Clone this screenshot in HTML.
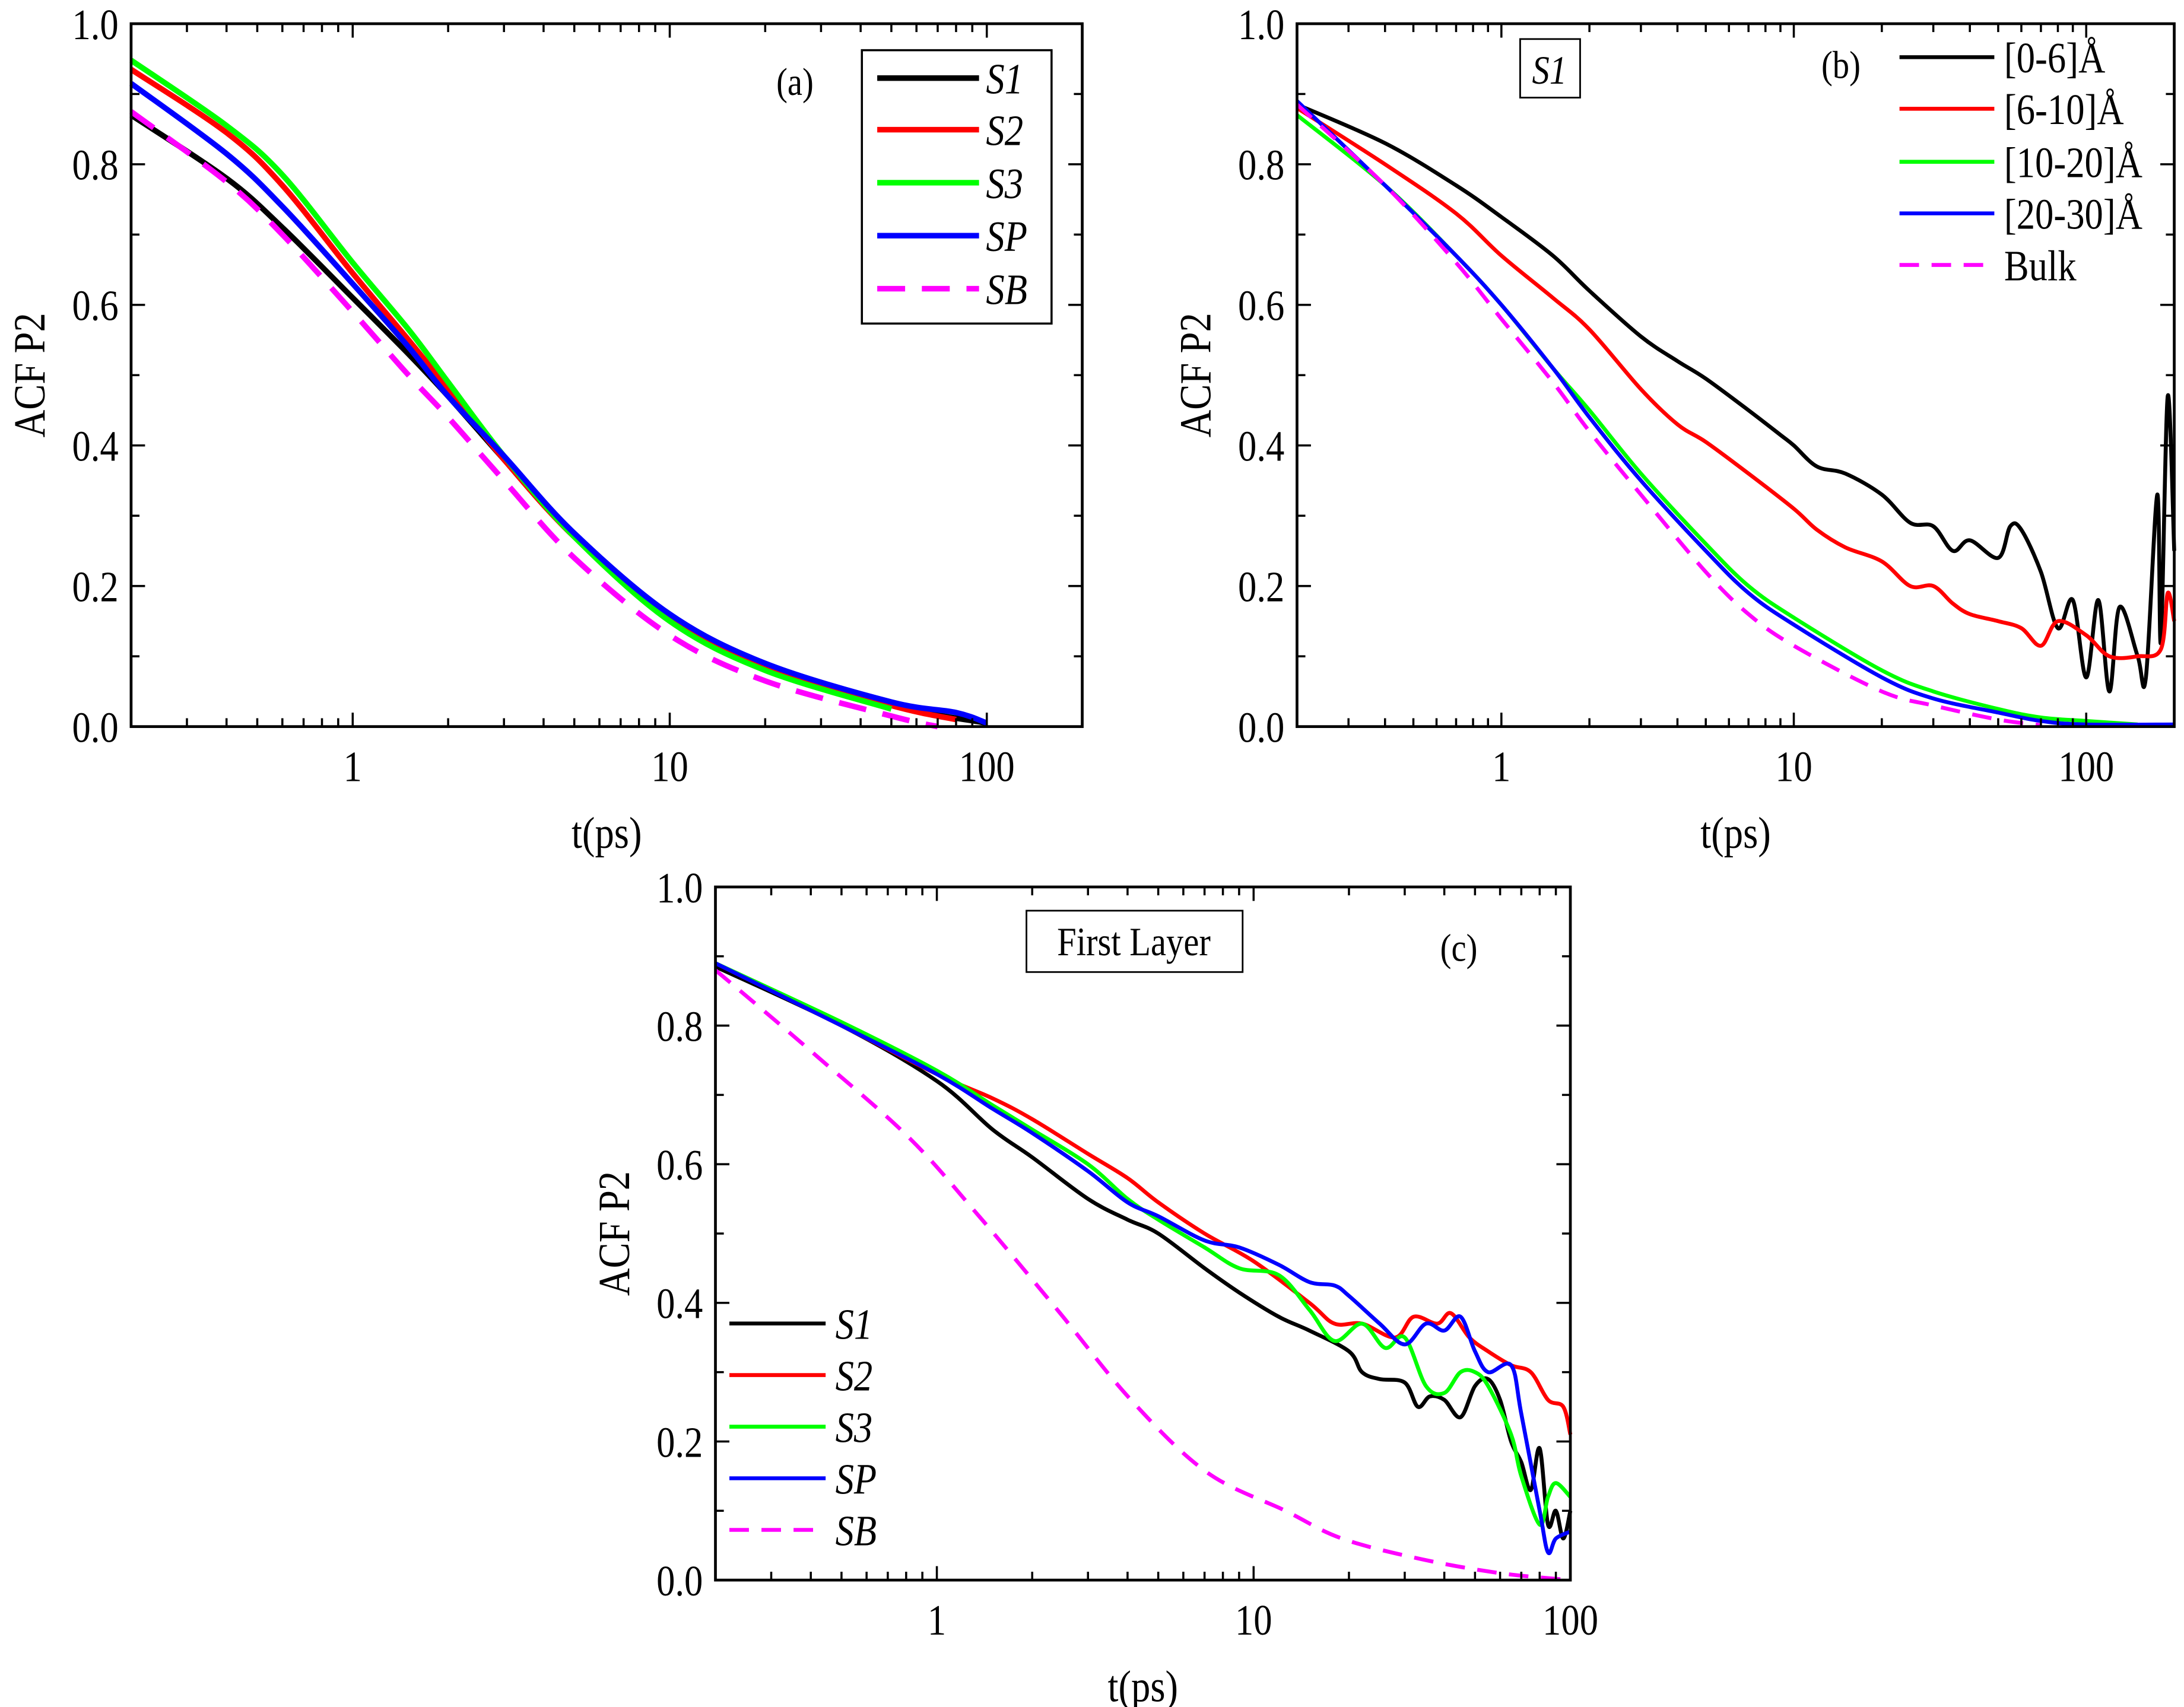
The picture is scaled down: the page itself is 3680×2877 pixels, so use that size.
<!DOCTYPE html>
<html><head><meta charset="utf-8"><style>
html,body{margin:0;padding:0;background:#fff;}
svg{display:block;font-family:"Liberation Serif",serif;}
</style></head><body>
<svg id="fig" width="3680" height="2877" viewBox="0 0 1566 1224" preserveAspectRatio="none" xmlns="http://www.w3.org/2000/svg"></svg>
<script>
// ---- Panel (a) data ----
const aS1 = [[0.2,0.87],[0.4,0.78],[0.6,0.71],[1,0.61],[1.5,0.53],[2,0.47],[3,0.38],[5,0.27],[10,0.155],[20,0.085],[50,0.03],[100,0.005]];
const aS2 = [[0.2,0.935],[0.4,0.845],[0.6,0.77],[1,0.645],[1.5,0.55],[2,0.48],[3,0.38],[5,0.27],[10,0.155],[20,0.085],[50,0.03],[80,0.01]];
const aS3 = [[0.2,0.948],[0.4,0.855],[0.6,0.785],[1,0.66],[1.5,0.565],[2,0.49],[3,0.385],[5,0.27],[10,0.15],[20,0.08],[50,0.025]];
const aSP = [[0.2,0.915],[0.4,0.815],[0.6,0.74],[1,0.63],[1.5,0.54],[2,0.47],[3,0.385],[5,0.275],[10,0.16],[20,0.09],[50,0.035],[80,0.02],[100,0.005]];
const aSB = [[0.2,0.875],[0.4,0.775],[0.6,0.70],[1,0.59],[1.5,0.50],[2,0.44],[3,0.35],[5,0.24],[10,0.13],[20,0.065],[50,0.015],[70,0.0]];
// ---- Panel (b) data ----
const b06 = [[0.2,0.885],[0.4,0.83],[0.7,0.77],[1,0.725],[1.5,0.67],[2,0.62],[3,0.555],[4,0.52],[5,0.495],[7,0.45],[9,0.415],[10,0.4],[12,0.37],[15,0.36],[20,0.33],[25,0.29],[30,0.285],[35,0.25],[40,0.265],[50,0.24],[55,0.285],[60,0.28],[70,0.22],[80,0.14],[90,0.18],[100,0.07],[110,0.18],[120,0.05],[130,0.17],[150,0.1],[160,0.07],[175,0.33],[180,0.12],[190,0.47],[200,0.25]];
const b610 = [[0.2,0.88],[0.4,0.8],[0.7,0.73],[1,0.67],[1.5,0.61],[2,0.565],[3,0.48],[4,0.43],[5,0.405],[7,0.36],[10,0.31],[12,0.28],[15,0.255],[20,0.235],[25,0.2],[30,0.2],[35,0.175],[40,0.16],[50,0.15],[60,0.14],[70,0.115],[80,0.15],[100,0.13],[120,0.1],[150,0.1],[180,0.11],[190,0.19],[200,0.15]];
const b1020 = [[0.2,0.87],[0.4,0.77],[0.7,0.67],[1,0.6],[1.5,0.51],[2,0.45],[3,0.36],[5,0.26],[7,0.2],[10,0.155],[20,0.08],[30,0.05],[50,0.025],[70,0.013],[100,0.008],[150,0.003]];
const b2030 = [[0.2,0.89],[0.4,0.77],[0.7,0.67],[1,0.6],[1.5,0.51],[2,0.44],[3,0.35],[5,0.25],[7,0.19],[10,0.145],[20,0.07],[30,0.04],[50,0.02],[70,0.008],[100,0.003],[200,0.003]];
const bBulk = [[0.2,0.885],[0.4,0.77],[0.7,0.66],[1,0.58],[1.5,0.49],[2,0.42],[3,0.33],[5,0.22],[7,0.16],[10,0.115],[20,0.05],[30,0.03],[50,0.01],[70,0.002]];
// ---- Panel (c) data ----
const cS1 = [[0.2,0.885],[0.5,0.8],[1,0.72],[1.5,0.65],[2,0.61],[3,0.55],[4,0.52],[5,0.5],[7,0.45],[9,0.415],[12,0.38],[15,0.36],[20,0.33],[22,0.3],[25,0.29],[30,0.285],[33,0.25],[36,0.265],[40,0.26],[45,0.235],[50,0.28],[55,0.29],[60,0.26],[65,0.2],[70,0.17],[75,0.13],[80,0.19],[85,0.08],[90,0.1],[95,0.06],[100,0.1]];
const cS2 = [[0.2,0.89],[0.5,0.8],[1,0.73],[1.5,0.695],[2,0.665],[3,0.615],[4,0.58],[5,0.545],[7,0.5],[10,0.46],[15,0.4],[18,0.37],[22,0.37],[28,0.35],[32,0.38],[38,0.37],[42,0.385],[48,0.35],[55,0.33],[65,0.31],[75,0.3],[85,0.26],[95,0.25],[100,0.21]];
const cS3 = [[0.2,0.89],[0.5,0.805],[1,0.735],[1.5,0.685],[2,0.65],[3,0.6],[4,0.55],[5,0.52],[7,0.48],[9,0.45],[12,0.44],[15,0.39],[18,0.345],[22,0.37],[26,0.335],[30,0.35],[35,0.28],[40,0.27],[45,0.3],[50,0.3],[55,0.28],[65,0.21],[70,0.15],[80,0.08],[85,0.12],[90,0.14],[100,0.12]];
const cSP = [[0.2,0.89],[0.5,0.8],[1,0.73],[1.5,0.68],[2,0.645],[3,0.59],[4,0.545],[5,0.525],[7,0.49],[9,0.48],[12,0.455],[15,0.43],[18,0.425],[20,0.41],[25,0.37],[30,0.34],[35,0.37],[40,0.36],[45,0.38],[50,0.33],[55,0.3],[65,0.31],[70,0.24],[80,0.1],[85,0.04],[90,0.06],[100,0.07]];
const cSB = [[0.2,0.88],[0.27,0.83],[0.42,0.755],[0.81,0.64],[1.33,0.53],[2.4,0.39],[4.1,0.26],[7.1,0.156],[12.6,0.10],[19,0.06],[34,0.03],[60,0.01],[100,0.0]];
const yTicks = [0,0.2,0.4,0.6,0.8,1.0];
const yTickLabels = ["0.0","0.2","0.4","0.6","0.8","1.0"];
const xTicks = [1,10,100];
const xTickLabels = ["1","10","100"];

const NS="http://www.w3.org/2000/svg";
const svg=document.getElementById('fig');
function mk(tag,attrs,parent,text){const e=document.createElementNS(NS,tag);for(const k in attrs)e.setAttribute(k,attrs[k]);if(text!==undefined)e.textContent=text;(parent||svg).appendChild(e);return e;}
function txt(x,y,s,size,anchor,italic,parent,rot){
  const tr=`translate(${x},${y})`+(rot?' rotate(-90)':'')+' scale(0.86,1)';
  return mk('text',{x:0,y:0,'text-anchor':anchor,'font-size':size,'font-style':italic?'italic':'normal',transform:tr},parent,s);
}
function smoothPath(pts){
  let d='M'+pts[0][0].toFixed(2)+' '+pts[0][1].toFixed(2);
  for(let i=0;i<pts.length-1;i++){
    const p0=pts[i-1]||pts[i],p1=pts[i],p2=pts[i+1],p3=pts[i+2]||p2;
    const c1x=p1[0]+(p2[0]-p0[0])/6,c1y=p1[1]+(p2[1]-p0[1])/6;
    const c2x=p2[0]-(p3[0]-p1[0])/6,c2y=p2[1]-(p3[1]-p1[1])/6;
    d+=` C${c1x.toFixed(2)} ${c1y.toFixed(2)} ${c2x.toFixed(2)} ${c2y.toFixed(2)} ${p2[0].toFixed(2)} ${p2[1].toFixed(2)}`;
  }
  return d;
}

function panel(id,L,R,T,B,xmin,xmax,series,lw,dash){
  const g=mk('g',{});
  
  
  const lx0=Math.log10(xmin),lx1=Math.log10(xmax);
  const X=t=>L+(Math.log10(t)-lx0)/(lx1-lx0)*(R-L);
  const Y=v=>B-v*(B-T);
  series.forEach(s=>{
    const d=smoothPath(s.data.map(p=>[X(p[0]),Y(p[1])]));
    const p=mk('path',{d:d,fill:'none',stroke:s.color,'stroke-width':lw,'stroke-linejoin':'round','stroke-dasharray':s.dash?dash:'none'},g);
    
    
  });
  const f=mk('rect',{x:L,y:T,width:R-L,height:B-T,fill:'none',stroke:'#000','stroke-width':2},g);
  
  
  for(let v=0;v<=1.0001;v+=0.1){
    const major=Math.abs(v*5-Math.round(v*5))<1e-6;const len=major?10:6;
    mk('line',{x1:L,y1:Y(v),x2:L+len,y2:Y(v),stroke:'#000','stroke-width':1.5},g);
    mk('line',{x1:R,y1:Y(v),x2:R-len,y2:Y(v),stroke:'#000','stroke-width':1.5},g);
  }
  yTicks.forEach((v,i)=>{
    const t=txt(L-9,Y(v)+11,yTickLabels[i],31,'end',false,g);
    
    
  });
  for(let e=-1;e<=3;e++){for(let m=1;m<10;m++){const t=m*Math.pow(10,e);if(t<xmin*0.999||t>xmax*1.001)continue;
    const len=m===1?10:6;
    mk('line',{x1:X(t),y1:B,x2:X(t),y2:B-len,stroke:'#000','stroke-width':1.5},g);
    mk('line',{x1:X(t),y1:T,x2:X(t),y2:T+len,stroke:'#000','stroke-width':1.5},g);}}
  xTicks.forEach((v,i)=>{if(v>xmax*1.001)return;
    const t=txt(X(v),B+39,xTickLabels[i],31,'middle',false,g);
    
    
  });
  const xl=txt((L+R)/2,B+87,'t(ps)',32,'middle',false,g);
  
  
  const yl=txt(L-62,(T+B)/2,'ACF P2',32,'middle',false,g,true);
  
  
  return g;
}

panel('a',94,776,17,521,0.2,200,[
  {name:'S1',color:'#000',data:aS1},{name:'S2',color:'#f00',data:aS2},
  {name:'S3',color:'#0f0',data:aS3},{name:'SP',color:'#00f',data:aSP},
  {name:'SB',color:'#f0f',data:aSB,dash:true}],4,'20 12');
panel('b',930,1559,17,521,0.2,200,[
  {name:'0-6',color:'#000',data:b06},{name:'6-10',color:'#f00',data:b610},
  {name:'10-20',color:'#0f0',data:b1020},{name:'20-30',color:'#00f',data:b2030},
  {name:'bulk',color:'#f0f',data:bBulk,dash:true}],2.8,'14 9');
panel('c',513,1126,636,1133,0.2,100,[
  {name:'S1',color:'#000',data:cS1},{name:'S2',color:'#f00',data:cS2},
  {name:'S3',color:'#0f0',data:cS3},{name:'SP',color:'#00f',data:cSP},
  {name:'SB',color:'#f0f',data:cSB,dash:true}],2.8,'14 9');

function legend(x0,x1,lx,ys,items,lw,dash,italic,name){
  const g=mk('g',{});
  
  
  items.forEach((it,i)=>{
    mk('line',{x1:x0,y1:ys[i],x2:x1,y2:ys[i],stroke:it[1],'stroke-width':lw,'stroke-dasharray':it[2]?dash:'none'},g);
    const t=txt(lx,ys[i]+11,it[0],31,'start',italic,g);
    
    
  });
  return g;
}
const la=mk('rect',{x:618,y:36,width:136,height:196,fill:'#fff',stroke:'#000','stroke-width':1.5});


legend(629,702,707,[56,93,131,169,207],[['S1','#000'],['S2','#f00'],['S3','#0f0'],['SP','#00f'],['SB','#f0f',1]],4,'20 12',true,'legend-a');
const ta=txt(570,68,'(a)',28,'middle',false);


legend(1362,1430,1437,[41,78,116,153,190],[['[0-6]Å','#000'],['[6-10]Å','#f00'],['[10-20]Å','#0f0'],['[20-30]Å','#00f'],['Bulk','#f0f',1]],2.8,'14 9',false,'legend-b');
const tb=txt(1320,56,'(b)',28,'middle',false);


const bb=mk('rect',{x:1090,y:28,width:43,height:42,fill:'#fff',stroke:'#000','stroke-width':1.2});


const bt=txt(1111,60,'S1',29,'middle',true);


legend(523,592,599,[949,986,1023,1060,1097],[['S1','#000'],['S2','#f00'],['S3','#0f0'],['SP','#00f'],['SB','#f0f',1]],2.8,'14 9',true,'legend-c');
const tc=txt(1046,689,'(c)',28,'middle',false);


const cb=mk('rect',{x:736,y:653,width:155,height:44,fill:'#fff',stroke:'#000','stroke-width':1.2});


const ct=txt(813,685,'First Layer',29,'middle',false);


</script>
</body></html>
